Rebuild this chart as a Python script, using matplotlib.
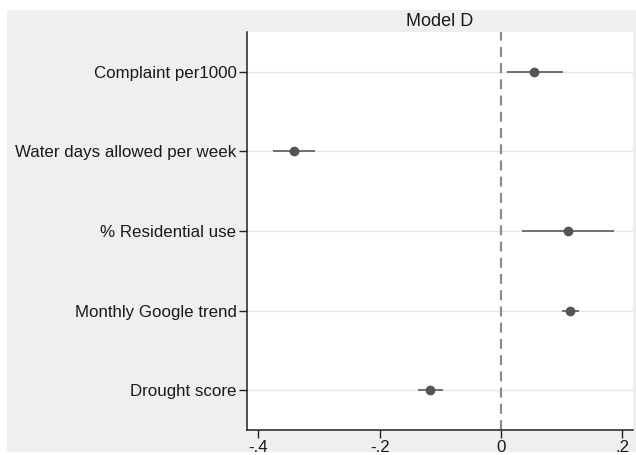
import matplotlib
matplotlib.use("Agg")
import matplotlib.pyplot as plt
from matplotlib.patches import Rectangle

categories = ["Complaint per1000", "Water days allowed per week", "% Residential use",
              "Monthly Google trend", "Drought score"]
estimates = [0.055, -0.341, 0.110, 0.114, -0.117]
ci_low = [0.010, -0.376, 0.035, 0.100, -0.137]
ci_high = [0.102, -0.306, 0.186, 0.129, -0.096]
xticks = [-0.4, -0.2, 0.0, 0.2]
xticklabels = ["-.4", "-.2", "0", ".2"]
title = "Model D"

plt.rcParams['font.family'] = ['Liberation Sans', 'DejaVu Sans']

W, H = 636, 455
fig = plt.figure(figsize=(W / 100, H / 100), dpi=100)
fig.patch.set_facecolor("white")
bg = Rectangle((7 / W, 3 / H), 629 / W, 442 / H, transform=fig.transFigure,
               facecolor="#efefef", edgecolor="none", zorder=-10)
fig.patches.append(bg)

ax = fig.add_axes([247 / W, 1 - 430 / H, (633 - 247) / W, (430 - 32) / H])
ax.set_zorder(5)
ax.set_facecolor("white")

ypos = list(range(1, len(categories) + 1))
for y in ypos:
    ax.axhline(y, color="#e6e6e6", lw=1.0, zorder=1)
ax.axvline(0, color="#8c8c8c", lw=1.6, ls=(0, (4.5, 2.8)), zorder=2)

for y, e, lo, hi in zip(ypos, estimates, ci_low, ci_high):
    ax.plot([lo, hi], [y, y], color="#6e6e6e", lw=1.4, solid_capstyle="butt", zorder=3)
ax.plot(estimates, ypos, "o", color="#555555", ms=6.0, mec="#555555", zorder=4, ls="none")

ax.set_ylim(5.5, 0.5)
ax.set_xlim(-0.4187, 0.2176)
ax.set_yticks(ypos)
ax.set_yticklabels(categories, fontsize=12.2, color="#1a1a1a")
ax.set_xticks(xticks)
ax.set_xticklabels(xticklabels, fontsize=12.2, color="#1a1a1a")
ax.tick_params(axis="both", direction="out", length=5.5, width=1, color="#222222", pad=2)

for s in ["top", "right"]:
    ax.spines[s].set_visible(False)
for s in ["left", "bottom"]:
    ax.spines[s].set_color("#222222")
    ax.spines[s].set_linewidth(1.1)

fig.text(440 / W, 1 - 21 / H, title, ha="center", va="center", fontsize=13, color="#1a1a1a")

fig.savefig("out.png", dpi=100)
